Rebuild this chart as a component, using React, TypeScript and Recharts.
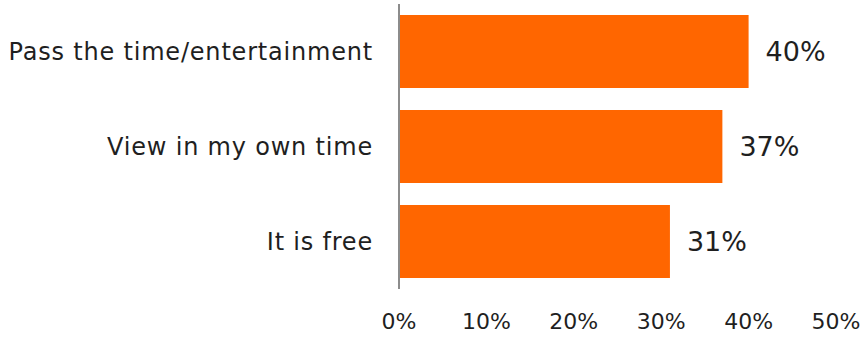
import React from "react";
import { BarChart, Bar, XAxis, YAxis, LabelList } from "recharts";

// reasons (percent)
const categories = ["Pass the time/entertainment", "View in my own time", "It is free"];
const shares = [40, 37, 31];
const xTicks = [0, 10, 20, 30, 40, 50];

const data = categories.map((name, i) => ({ name, value: shares[i] }));

const ORANGE = "#FF6600";
const INK = "#1f1f1f";
const FONT = "'DejaVu Sans', sans-serif";

export default function App() {
  return (
    <div style={{ position: "absolute", left: 0, top: 0, width: 863, height: 338, background: "#fff" }}>
      <BarChart
        width={863}
        height={338}
        data={data}
        layout="vertical"
        margin={{ top: 4, right: 27, bottom: 0, left: 0 }}
        barCategoryGap={11}
      >
        <XAxis
          type="number"
          domain={[0, 50]}
          ticks={xTicks}
          tickFormatter={(v) => `${v}%`}
          axisLine={false}
          tickLine={false}
          tickSize={0}
          tickMargin={24}
          height={49}
          interval={0}
          tick={{ fontSize: 22, fill: INK, fontFamily: FONT }}
        />
        <YAxis
          type="category"
          dataKey="name"
          width={399}
          axisLine={{ stroke: "#8c8c8c", strokeWidth: 2 }}
          tickLine={false}
          tickSize={0}
          tickMargin={26}
          tick={{ fontSize: 24, fill: INK, fontFamily: FONT, letterSpacing: 0.8 }}
        />
        <Bar dataKey="value" fill={ORANGE} isAnimationActive={false}>
          <LabelList
            dataKey="value"
            position="right"
            offset={17}
            formatter={(v: any) => `${v}%`}
            style={{ fontSize: 27, fill: INK, fontFamily: FONT }}
          />
        </Bar>
      </BarChart>
    </div>
  );
}
